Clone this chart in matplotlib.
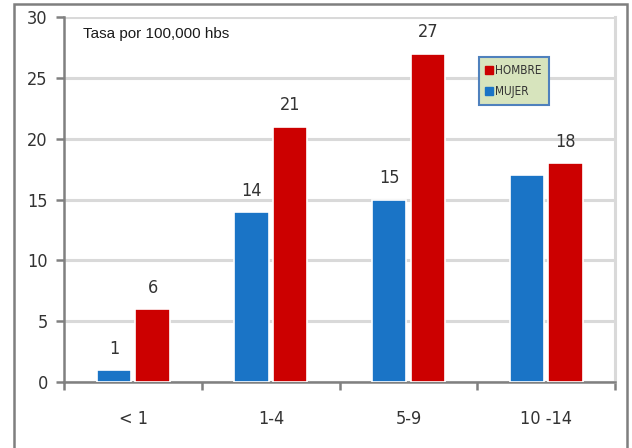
import numpy as np
import matplotlib
matplotlib.use('Agg')
import matplotlib.pyplot as plt
from matplotlib.patches import Rectangle
from matplotlib.lines import Line2D

# data
groups = ['< 1', '1-4', '5-9', '10 -14']
mujer = [1, 14, 15, 17]
hombre = [6, 21, 27, 18]
mujer_labels = ['1', '14', '15', '']
hombre_labels = ['6', '21', '27', '18']

narrow = ['Liberation Sans Narrow', 'DejaVu Sans']
blue = '#1A74C6'
red = '#CC0000'

fig = plt.figure(figsize=(6.32, 4.48), dpi=100)
ax = fig.add_axes([0.102, 0.147, 0.871, 0.815])

# outer frame
fig.patches.append(Rectangle((14/632, -0.05), 613/632, 1.0 - 4/448 + 0.05, transform=fig.transFigure,
                             fill=False, edgecolor='#7F7F7F', linewidth=1.8))

x = np.arange(len(groups))
w = 0.25
ax.bar(x - 0.14, mujer, w, color=blue, edgecolor='white', linewidth=1.2, zorder=3)
ax.bar(x + 0.14, hombre, w, color=red, edgecolor='white', linewidth=1.2, zorder=3)

lab = dict(ha='center', va='bottom', fontsize=13, color='#333333', family=narrow, stretch='condensed')
for i in range(len(groups)):
    if mujer_labels[i]:
        ax.text(x[i] - 0.14, mujer[i] + 1.0, mujer_labels[i], **lab)
    ax.text(x[i] + 0.14, hombre[i] + 1.0, hombre_labels[i], **lab)

ax.set_xlim(-0.5, len(groups) - 0.5)
ax.set_ylim(0, 30)
ax.set_yticks(range(0, 31, 5))
ax.set_yticklabels([str(v) for v in range(0, 31, 5)], family=narrow, stretch='condensed',
                   fontsize=13, color='#333333')
ax.yaxis.grid(True, color='#D9D9D9', linewidth=2.2, zorder=0)
ax.set_axisbelow(True)

ax.set_xticks(np.arange(-0.5, len(groups), 1.0))
ax.set_xticklabels([])
ax.set_xticks(x, minor=True)
ax.set_xticklabels(groups, minor=True, family=narrow, stretch='condensed', fontsize=13, color='#333333')
ax.tick_params(axis='x', which='minor', length=0, pad=20)
ax.tick_params(axis='x', which='major', length=6, width=1.8, color='#808080')
ax.tick_params(axis='y', length=6, width=1.8, color='#808080', pad=6)

ax.spines['top'].set_visible(False)
ax.spines['right'].set_color('#D9D9D9')
ax.spines['right'].set_linewidth(2.2)
ax.spines['left'].set_color('#808080')
ax.spines['left'].set_linewidth(1.8)
ax.spines['bottom'].set_color('#808080')
ax.spines['bottom'].set_linewidth(1.8)

ax.text(0.034, 0.953, 'Tasa por 100,000 hbs', transform=ax.transAxes, fontsize=11,
        family='Liberation Sans', color='#1A1A1A', va='center')

handles = [Line2D([], [], marker='s', linestyle='none', color=red, markersize=6),
           Line2D([], [], marker='s', linestyle='none', color=blue, markersize=6)]
leg = ax.legend(handles, ['HOMBRE', 'MUJER'], loc='upper left', bbox_to_anchor=(0.742, 0.907),
                frameon=True, fancybox=False,
                prop={'family': narrow, 'stretch': 'condensed', 'size': 8.5},
                handlelength=0.6, handletextpad=0.2, labelspacing=0.7, borderpad=0.6)
leg.get_frame().set_facecolor('#D7E4BD')
leg.get_frame().set_edgecolor('#4F81BD')
leg.get_frame().set_linewidth(1.5)
leg.get_frame().set_alpha(1)
for t in leg.get_texts():
    t.set_color('#333333')

fig.savefig('out.png', dpi=100)
